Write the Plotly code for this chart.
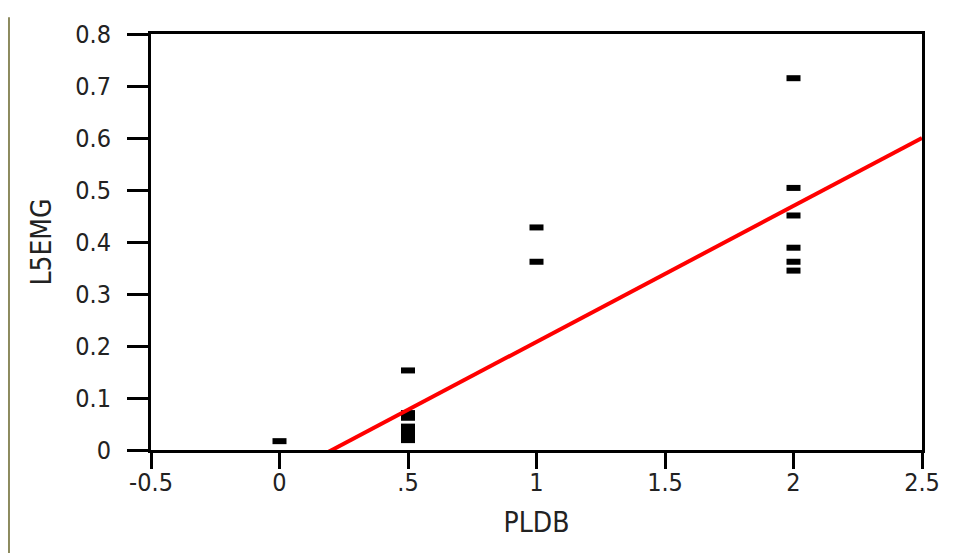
import plotly.graph_objects as go

# Data
pldb = [0, 0.5, 0.5, 0.5, 0.5, 0.5, 0.5, 0.5, 1, 1, 2, 2, 2, 2, 2, 2]
l5emg = [0.017, 0.153, 0.071, 0.062, 0.045, 0.035, 0.027, 0.019,
         0.428, 0.362, 0.715, 0.504, 0.451, 0.389, 0.362, 0.345]

fit_x = [0.185, 2.5]
fit_y = [-0.005, 0.6]

x_ticks = [-0.5, 0, 0.5, 1, 1.5, 2, 2.5]
x_ticktext = ["-0.5", "0", ".5", "1", "1.5", "2", "2.5"]
y_ticks = [0, 0.1, 0.2, 0.3, 0.4, 0.5, 0.6, 0.7, 0.8]
y_ticktext = ["0", "0.1", "0.2", "0.3", "0.4", "0.5", "0.6", "0.7", "0.8"]

FONT = "DejaVu Sans Condensed, Liberation Sans Narrow, Liberation Sans, sans-serif"
TEXT = "#222222"

fig = go.Figure()
fig.add_trace(go.Scatter(
    x=pldb, y=l5emg, mode="markers",
    marker=dict(symbol="line-ew", size=10, line=dict(color="black", width=6)),
    showlegend=False, hoverinfo="x+y",
))
fig.add_trace(go.Scatter(
    x=fit_x, y=fit_y, mode="lines",
    line=dict(color="#ff0000", width=4),
    showlegend=False,
))

fig.update_layout(
    width=950, height=545,
    margin=dict(l=143, r=36, t=16, b=103),
    paper_bgcolor="white", plot_bgcolor="white",
    font=dict(family=FONT, size=25, color=TEXT),
    xaxis=dict(
        range=[-0.5, 2.5], tickvals=x_ticks, ticktext=x_ticktext,
        showgrid=False, zeroline=False,
        showline=True, linecolor="black", linewidth=3, mirror=True,
        ticks="outside", ticklen=16, tickwidth=3, tickcolor="black",
        ticklabelstandoff=-8,
        tickfont=dict(family=FONT, size=25, color=TEXT),
        title=dict(text="PLDB", standoff=17, font=dict(family=FONT, size=28, color=TEXT)),
    ),
    yaxis=dict(
        range=[0, 0.8], tickvals=y_ticks, ticktext=y_ticktext,
        showgrid=False, zeroline=False,
        showline=True, linecolor="black", linewidth=3, mirror=True,
        ticks="outside", ticklen=21, tickwidth=3, tickcolor="black",
        ticklabelstandoff=11,
        tickfont=dict(family=FONT, size=25, color=TEXT),
        title=dict(text="L5EMG", standoff=16, font=dict(family=FONT, size=28, color=TEXT)),
    ),
    shapes=[dict(
        type="line", xref="paper", yref="paper",
        x0=-0.1842, x1=-0.1842, y0=-0.26, y1=1.04,
        line=dict(color="#8c8a5e", width=2),
    )],
)

fig.write_html("out.html")
